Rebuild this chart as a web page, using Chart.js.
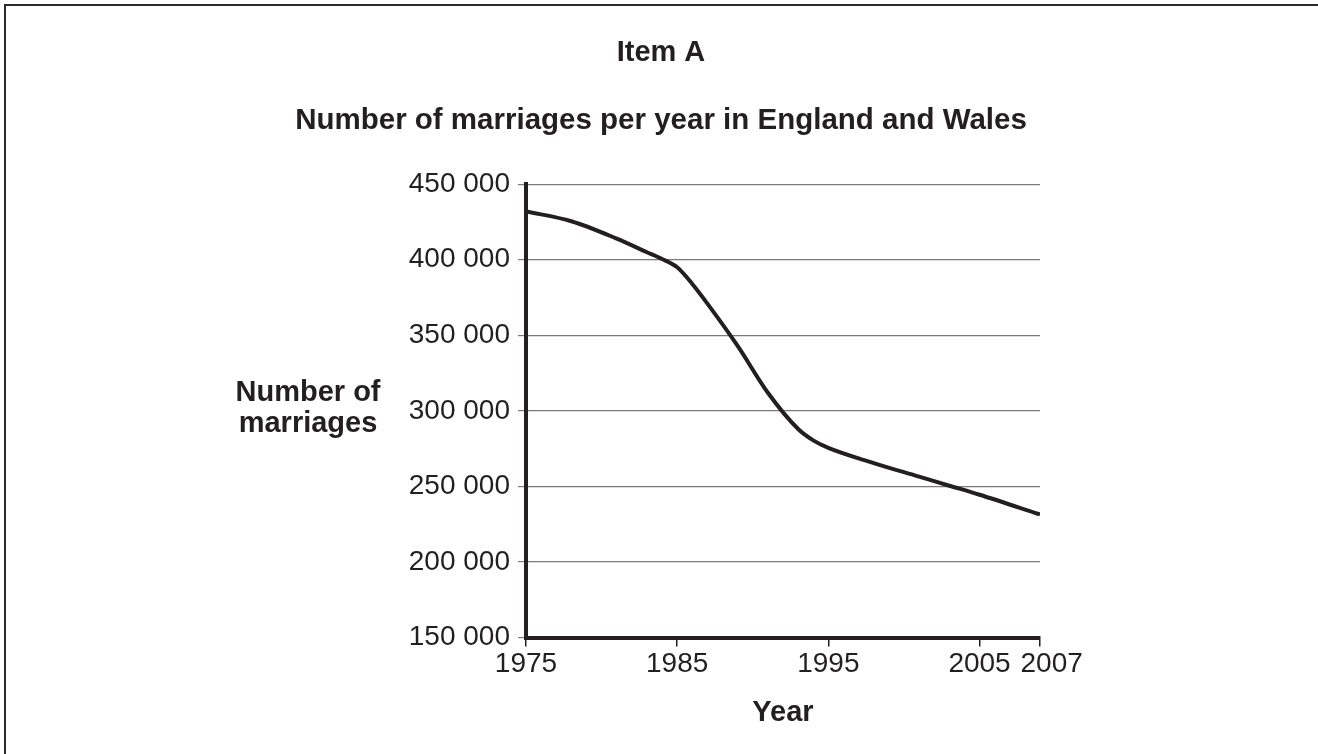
<!DOCTYPE html>
<html>
<head>
<meta charset="utf-8">
<title>Item A</title>
<script src="https://cdn.jsdelivr.net/npm/chart.js@4.4.1/dist/chart.umd.min.js"></script>
<style>
  html, body { margin: 0; padding: 0; background: #fff; overflow: hidden; }
  #wrap { position: relative; width: 1318px; height: 754px; }
  #frame {
    position: absolute; left: 4px; top: 4px; width: 1400px; height: 800px;
    border-top: 2px solid #2b2b2b; border-left: 2px solid #2b2b2b;
    pointer-events: none;
  }
  canvas { position: absolute; left: 0; top: 0; }
</style>
</head>
<body>
<div id="wrap">
  <canvas id="chart" width="1318" height="754"></canvas>
  <div id="frame"></div>
</div>
<script>
// values
const years = [1975, 1978, 1981, 1983, 1984, 1985, 1986, 1987, 1989, 1991, 1993, 1994, 1995, 1998, 2001, 2003, 2005, 2007];
const marriages = [432000, 425500, 414000, 405000, 400500, 395000, 384000, 371000, 343000, 312000, 288000, 280500, 275500, 265500, 256500, 250500, 244500, 231500];

const tickYears = [1975, 1985, 1995, 2005, 2007];
const yTicks = [150000, 200000, 250000, 300000, 350000, 400000, 450000];
const yTitle = ['Number of', 'marriages'];

const ink = '#231f20';
const fontFamily = "'Liberation Sans', Arial, Helvetica, sans-serif";
const padLeft = 8;

// the original axis gives 2005-2007 twice the width per year
function axisPos(year) {
  return year <= 2005 ? year : 2005 + (year - 2005) * 2;
}

// y axis title sits horizontally to the left of the tick labels
const sideTitle = {
  id: 'sideTitle',
  afterDraw(chart) {
    const ctx = chart.ctx;
    ctx.save();
    ctx.font = 'bold 29px ' + fontFamily;
    ctx.fillStyle = ink;
    ctx.textAlign = 'center';
    ctx.textBaseline = 'alphabetic';
    ctx.fillText(yTitle[0], 308, 401);
    ctx.fillText(yTitle[1], 308, 432);
    ctx.restore();
  }
};

new Chart(document.getElementById('chart'), {
  type: 'line',
  data: {
    datasets: [{
      data: years.map((y, i) => ({ x: axisPos(y), y: marriages[i] })),
      borderColor: ink,
      borderWidth: 4,
      pointRadius: 0,
      cubicInterpolationMode: 'monotone',
      fill: false
    }]
  },
  options: {
    responsive: false,
    animation: false,
    layout: { padding: { left: padLeft, right: 4, top: 0, bottom: 24 } },
    plugins: {
      legend: { display: false },
      tooltip: { enabled: false },
      title: {
        display: true,
        text: 'Item A',
        color: ink,
        font: { family: fontFamily, size: 29, weight: 'bold' },
        padding: { top: 36, bottom: 0 }
      },
      subtitle: {
        display: true,
        text: 'Number of marriages per year in England and Wales',
        color: ink,
        font: { family: fontFamily, size: 29.5, weight: 'bold' },
        padding: { top: 32, bottom: 46 }
      }
    },
    scales: {
      x: {
        type: 'linear',
        min: axisPos(tickYears[0]),
        max: axisPos(tickYears[tickYears.length - 1]),
        afterBuildTicks: scale => {
          scale.ticks = tickYears.map(y => ({ value: axisPos(y) }));
        },
        ticks: {
          autoSkip: false,
          maxRotation: 0,
          color: ink,
          padding: 1,
          font: { family: fontFamily, size: 28 },
          callback: (v, i) => (i === tickYears.length - 1 ? '   ' : '') + tickYears[i]
        },
        grid: { drawOnChartArea: false, drawTicks: true, tickLength: 9, color: ink, lineWidth: 1.5 },
        border: { display: true, color: ink, width: 4 },
        title: {
          display: true,
          text: 'Year',
          color: ink,
          font: { family: fontFamily, size: 29, weight: 'bold' },
          padding: { top: 13, bottom: 0 }
        }
      },
      y: {
        min: yTicks[0],
        max: yTicks[yTicks.length - 1],
        afterBuildTicks: scale => {
          scale.ticks = yTicks.map(v => ({ value: v }));
        },
        afterFit: scale => { scale.width = 526 - padLeft; },
        ticks: {
          color: ink,
          padding: 8,
          font: { family: fontFamily, size: 28 },
          callback: v => String(v).replace(/\B(?=(\d{3})+(?!\d))/g, ' ')
        },
        grid: { color: '#7a7a7a', lineWidth: 1.2, tickLength: 8 },
        border: { display: true, color: ink, width: 4 }
      },
      // empty right-hand scale that only reserves the white space right of the plot
      yRight: {
        position: 'right',
        display: true,
        afterFit: scale => { scale.width = 1318 - 4 - 1040; },
        ticks: { display: false },
        grid: { display: false, drawTicks: false },
        border: { display: false }
      }
    }
  },
  plugins: [sideTitle]
});
</script>
</body>
</html>
